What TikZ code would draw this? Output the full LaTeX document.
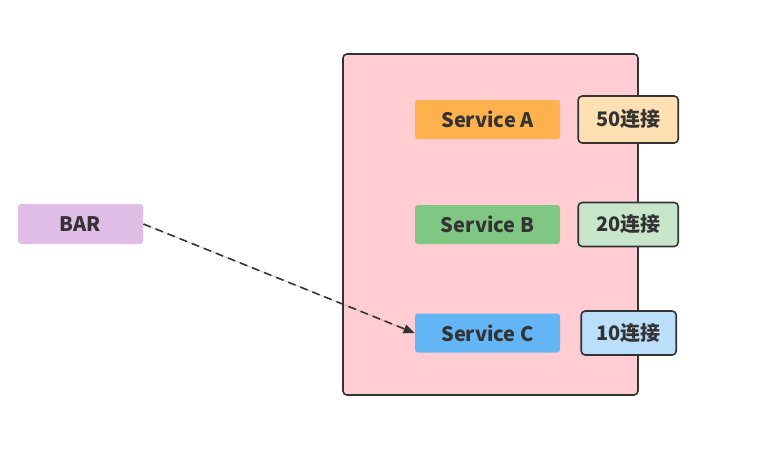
\documentclass[tikz,border=0pt]{standalone}
\usepackage{fontspec}
\setmainfont{Noto Sans CJK SC}
\usetikzlibrary{arrows.meta, positioning}
\definecolor{ink}{HTML}{333333}
\definecolor{podfill}{HTML}{FFCDD2}
\definecolor{orangesvc}{HTML}{FFB14E}
\definecolor{greensvc}{HTML}{81C784}
\definecolor{bluesvc}{HTML}{64B5F6}
\definecolor{purplebar}{HTML}{E1BEE7}
\definecolor{orangetag}{HTML}{FFE0B2}
\definecolor{greentag}{HTML}{C8E6C9}
\definecolor{bluetag}{HTML}{BBDEFB}
\tikzstyle{container} = [rectangle, rounded corners=2pt, minimum width=147.5pt,
                         minimum height=170.5pt, draw=ink, fill=podfill, line width=0.8pt]
\tikzstyle{service} = [rectangle, rounded corners=1.5pt, minimum width=72.5pt,
                       minimum height=19.5pt, text centered, text=ink,
                       font=\fontsize{10}{12}\selectfont\bfseries]
\tikzstyle{conntag} = [rectangle, rounded corners=2pt, minimum width=50pt,
                       minimum height=22pt, text centered, text=ink, draw=ink,
                       line width=0.8pt, font=\fontsize{10}{12}\selectfont\bfseries]
\tikzstyle{arrow} = [-{Triangle[length=5.5pt, width=4.5pt]}, dash pattern=on 4pt off 2.5pt,
                     draw=ink, fill=ink, line width=0.8pt]

\begin{document}
\begin{tikzpicture}[x=0.5pt, y=-0.5pt, node distance=8.5pt]
    \useasboundingbox (0,0) rectangle (765,461);

    % Container
    \node[container] (box) at (490.5,224.5) {};

    % Services
    \node[service, fill=orangesvc] (svca) at (487.5,119.5) {Service A};
    \node[service, fill=greensvc] (svcb) at (487.5,224.5) {Service B};
    \node[service, fill=bluesvc] (svcc) at (487.5,333) {Service C};

    % Connection counts
    \node[conntag, fill=orangetag, minimum height=23.5pt, right=of svca] (taga) {50连接};
    \node[conntag, fill=greentag, right=of svcb] (tagb) {20连接};
    \node[conntag, fill=bluetag, minimum width=47.5pt, right=10pt of svcc] (tagc) {10连接};

    % Client
    \node[service, fill=purplebar, minimum width=62.5pt, minimum height=20pt] (bar) at (80.5,224) {BAR};

    % Arrow
    \draw[arrow] (bar.east) -- (svcc.west);
\end{tikzpicture}
\end{document}
